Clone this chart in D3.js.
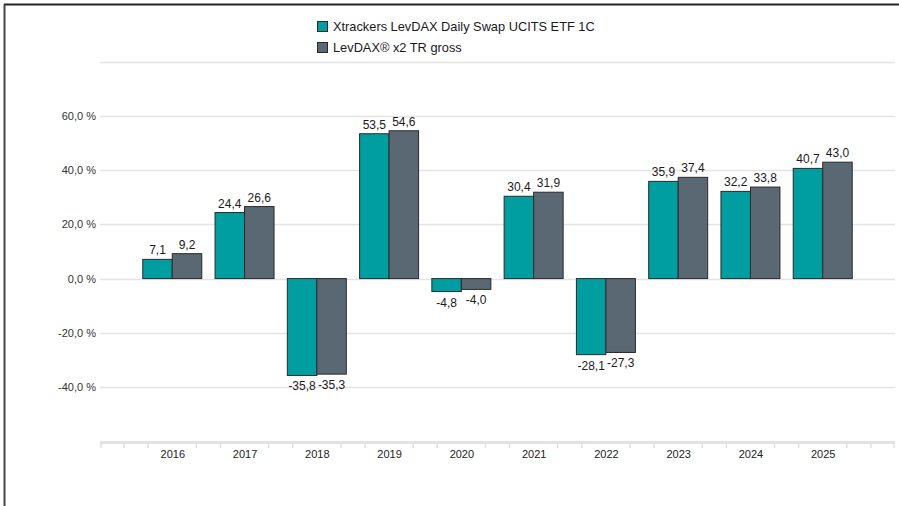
<!DOCTYPE html>
<html><head><meta charset="utf-8">
<script src="https://cdn.jsdelivr.net/npm/d3@7"></script>
<style>
html,body{margin:0;padding:0;background:#fff;}
svg{display:block;font-family:"Liberation Sans",Arial,sans-serif;}
</style></head>
<body>
<svg id="chart" width="899" height="506"></svg>
<script>
const categories = ["2016","2017","2018","2019","2020","2021","2022","2023","2024","2025"];
const seriesNames = ["Xtrackers LevDAX Daily Swap UCITS ETF 1C","LevDAX® x2 TR gross"];
const etfValues = [7.1, 24.4, -35.8, 53.5, -4.8, 30.4, -28.1, 35.9, 32.2, 40.7];
const indexValues = [9.2, 26.6, -35.3, 54.6, -4.0, 31.9, -27.3, 37.4, 33.8, 43.0];
const yTickValues = [-40, -20, 0, 20, 40, 60];
const gridValues = [-40, -20, 0, 20, 40, 60, 80];
const colors = ["#009EA0", "#5A6873"];

const svg = d3.select("#chart");
const plotLeft = 100, plotRight = 895, plotTop = 62, plotBottom = 441;

const x = d3.scaleLinear().domain([-1, categories.length]).range([plotLeft, plotRight]);
const y = d3.scaleLinear().domain([-60, 80]).range([plotBottom, plotTop]);
const barW = 29.5;

// frame
svg.append("line").attr("x1",4).attr("x2",899).attr("y1",4.5).attr("y2",4.5).attr("stroke","#222").attr("stroke-width",2);
svg.append("line").attr("x1",4.5).attr("x2",4.5).attr("y1",4).attr("y2",506).attr("stroke","#444").attr("stroke-width",2);

// grid
svg.append("g").selectAll("line").data(gridValues).join("line")
  .attr("x1", plotLeft).attr("x2", plotRight)
  .attr("y1", d => Math.round(y(d)) + 0.5).attr("y2", d => Math.round(y(d)) + 0.5)
  .attr("stroke", "#e4e4e4").attr("stroke-width", 1.5);

// y labels
const fmt = d => d3.format(".1f")(d).replace(".", ",").replace("\u2212","-");
const yAxis = d3.axisLeft(y).tickValues(yTickValues).tickSize(0).tickPadding(0)
  .tickFormat(d => fmt(d) + " %");
const ya = svg.append("g").attr("transform", `translate(${plotLeft-4},0)`).call(yAxis);
ya.select(".domain").remove();
ya.selectAll("text").attr("font-size", 11).attr("fill", "#333").attr("font-family","Liberation Sans, Arial, sans-serif");

// x axis line and ticks
svg.append("line").attr("x1", plotLeft).attr("x2", plotRight).attr("y1", plotBottom + 1.5).attr("y2", plotBottom + 1.5)
  .attr("stroke", "#e2e2e2").attr("stroke-width", 3);
const tickPos = [];
for (let i = -1; i <= categories.length; i++) {
  [i - 1/3, i + 1/3].forEach(v => { const px = x(v); if (px > plotLeft + 2 && px < plotRight - 2) tickPos.push(px); });
}
tickPos.push(plotLeft + 1, plotRight - 1);
svg.append("g").selectAll("line").data(tickPos).join("line")
  .attr("x1", d => d).attr("x2", d => d).attr("y1", plotBottom + 1).attr("y2", plotBottom + 7)
  .attr("stroke", "#e0e0e0").attr("stroke-width", 1.5);
const xAxis = d3.axisBottom(x).tickValues(d3.range(categories.length)).tickSize(0).tickPadding(0)
  .tickFormat(i => categories[i]);
const xa = svg.append("g").attr("transform", `translate(0,${plotBottom + 9})`).call(xAxis);
xa.select(".domain").remove();
xa.selectAll("text").attr("font-size", 11).attr("fill", "#222").attr("dy", "0.71em").attr("font-family","Liberation Sans, Arial, sans-serif");

// bars
const seriesData = [etfValues, indexValues];
seriesData.forEach((vals, s) => {
  const g = svg.append("g");
  g.selectAll("rect").data(vals).join("rect")
    .attr("x", (d, i) => x(i) + (s === 0 ? -barW : 0))
    .attr("width", barW)
    .attr("y", d => y(Math.max(0, d)))
    .attr("height", d => Math.abs(y(d) - y(0)))
    .attr("fill", colors[s]).attr("stroke", "#2a2a2a").attr("stroke-width", 1);
  g.selectAll("text").data(vals).join("text")
    .attr("x", (d, i) => x(i) + (s === 0 ? -barW/2 : barW/2))
    .attr("y", d => d >= 0 ? y(d) - 5 : y(d) + 15)
    .attr("text-anchor", "middle").attr("font-size", 12).attr("fill", "#1a1a1a")
    .text(d => fmt(d));
});

// legend
const lg = svg.append("g").attr("transform", "translate(317,21)");
seriesNames.forEach((n, i) => {
  const r = lg.append("g").attr("transform", `translate(0,${i*21})`);
  r.append("rect").attr("x",0.5).attr("y",0.5).attr("width",10).attr("height",10).attr("fill",colors[i]).attr("stroke","#2a2a2a").attr("stroke-width",1);
  r.append("text").attr("x",16).attr("y",9.5).attr("font-size",12.8).attr("fill","#1a1a1a").text(n);
});
</script>
</body></html>
